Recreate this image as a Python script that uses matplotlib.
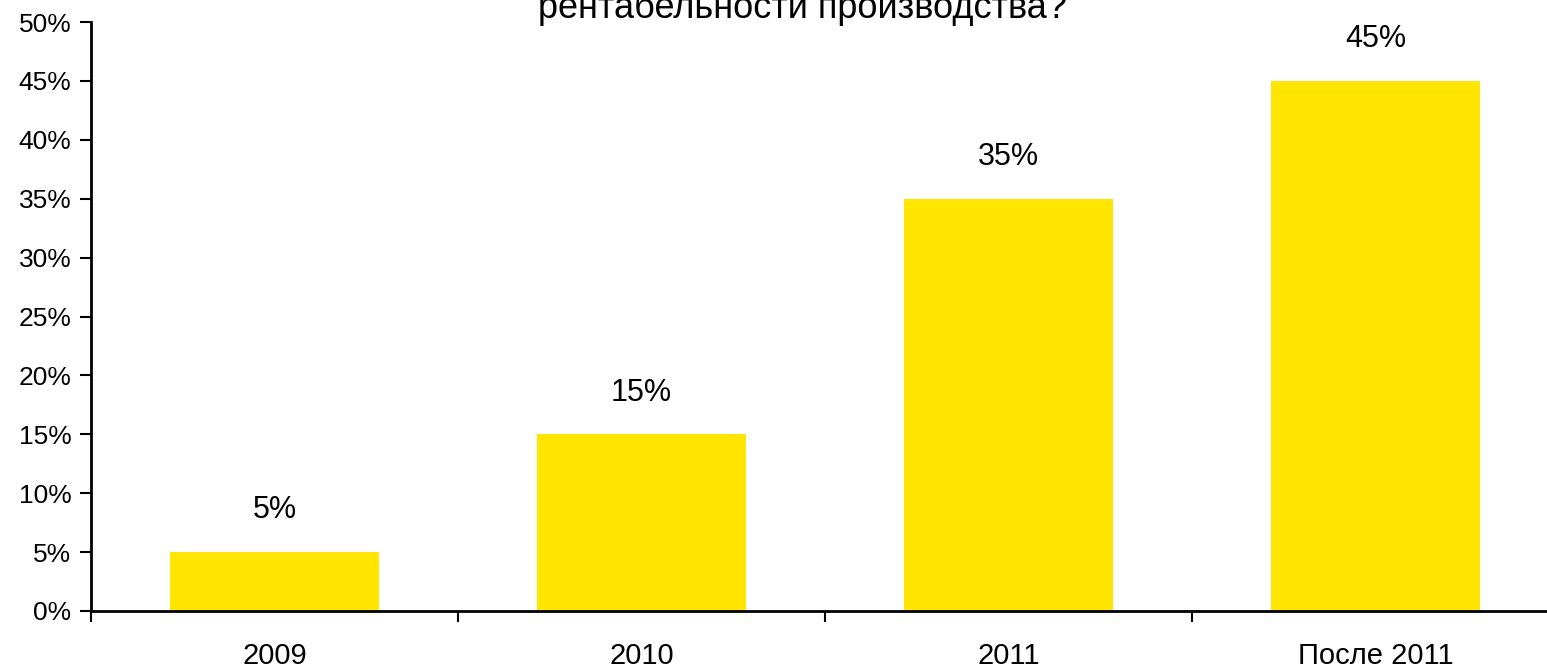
import matplotlib.pyplot as plt
import numpy as np

plt.rcParams['font.family'] = ['Liberation Sans', 'DejaVu Sans']

# --- Data
categories = ['2009', '2010', '2011', 'После 2011']
shares = [5, 15, 35, 45]
yticks = list(range(0, 55, 5))

# --- Figure
fig = plt.figure(figsize=(15.47, 6.68), dpi=100)
ax = fig.add_axes([91 / 1547, 1 - 611 / 668, (1559 - 91) / 1547, (611 - 22) / 668])

x = np.arange(len(categories))
ax.bar(x, shares, width=0.57, color='#FFE500')

for xi, v in zip(x, shares):
    ax.annotate(f'{v}%', (xi, v), xytext=(0, 30), textcoords='offset points',
                ha='center', va='center', fontsize=22)

ax.set_xlim(-0.5, len(categories) - 0.5)
ax.set_ylim(0, 50)
ax.set_yticks(yticks)
ax.set_yticklabels([f'{t}%' for t in yticks], fontsize=19)

# category separators as major ticks, labels on minor ticks
ax.set_xticks(np.arange(len(categories) + 1) - 0.5)
ax.set_xticklabels([])
ax.set_xticks(x, minor=True)
ax.set_xticklabels(categories, minor=True, fontsize=21)
ax.tick_params(axis='x', which='major', direction='out', length=8, width=1.5)
ax.tick_params(axis='x', which='minor', length=0, pad=22)
ax.tick_params(axis='y', direction='out', length=8, width=1.5, pad=6)

for side in ['top', 'right']:
    ax.spines[side].set_visible(False)
for side in ['left', 'bottom']:
    ax.spines[side].set_linewidth(2)

fig.text(802 / 1547, 1 - 18 / 668, 'рентабельности производства?',
         ha='center', va='baseline', fontsize=26)

fig.savefig('out.png', dpi=100)
